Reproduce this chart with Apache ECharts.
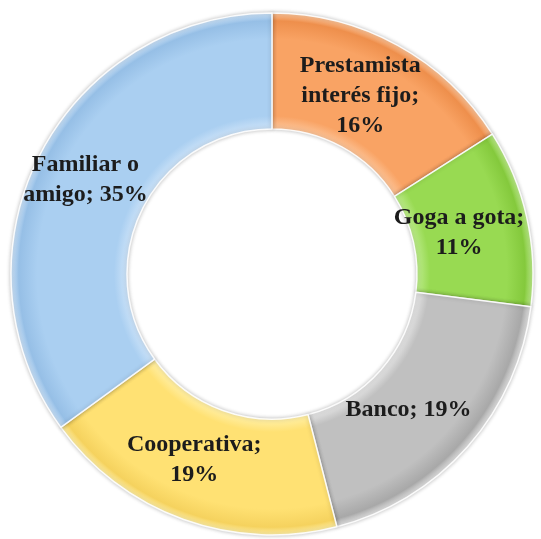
<!DOCTYPE html>
<html>
<head>
<meta charset="utf-8">
<script src="https://cdn.jsdelivr.net/npm/echarts@6/dist/echarts.min.js"></script>
<style>html,body{margin:0;padding:0;background:#fff;}#c{width:541px;height:539px;}</style>
</head>
<body>
<div id="c"></div>
<script>
const categories = ['Prestamista\ninterés fijo', 'Goga a gota', 'Banco', 'Cooperativa', 'Familiar o\namigo'];
const separators = [';\n', ';\n', '; ', ';\n', '; '];
const values = [16, 11, 19, 19, 35];

const baseColors = ['#F9A364', '#98DA52', '#C0C0C0', '#FFE173', '#AACFF1'];
const lightColors = ['#FCC59A', '#BDEB8C', '#E6E6E6', '#FFF0A8', '#CDE3F8'];
const darkColors = ['#EE8F4C', '#84C93C', '#A8A8A8', '#F5D25E', '#96BFE6'];
const labelShift = [[-11, 2], [-14, 4], [-18, 0], [-8, -8], [-3, -1]];

const cx = 272, cy = 274, rOut = 261, rIn = 145;
const f = rIn / rOut;

function grad(i) {
  return {
    type: 'radial', x: cx, y: cy, r: rOut, global: true,
    colorStops: [
      { offset: 0, color: baseColors[i] },
      { offset: f, color: lightColors[i] },
      { offset: f + 0.05, color: baseColors[i] },
      { offset: 0.9, color: baseColors[i] },
      { offset: 0.97, color: darkColors[i] },
      { offset: 1, color: lightColors[i] }
    ]
  };
}

const data = categories.map((n, i) => ({
  name: n, value: values[i],
  itemStyle: { color: grad(i) },
  label: { formatter: n + separators[i] + values[i] + '%', offset: labelShift[i] }
}));

const chart = echarts.init(document.getElementById('c'));
chart.setOption({
  animation: false,
  series: [{
    type: 'pie',
    center: [cx, cy],
    radius: [rIn, rOut],
    startAngle: 90,
    clockwise: true,
    data: data,
    itemStyle: { borderColor: 'rgba(255,255,255,0.9)', borderWidth: 1.5, shadowBlur: 4, shadowColor: 'rgba(0,0,0,0.25)' },
    label: {
      show: true, position: 'inside',
      fontFamily: 'Liberation Serif', fontWeight: 'bold', fontSize: 24, lineHeight: 30,
      color: '#1c1c1c', align: 'center'
    },
    labelLine: { show: false },
    emphasis: { disabled: true }
  }]
});
</script>
</body>
</html>
